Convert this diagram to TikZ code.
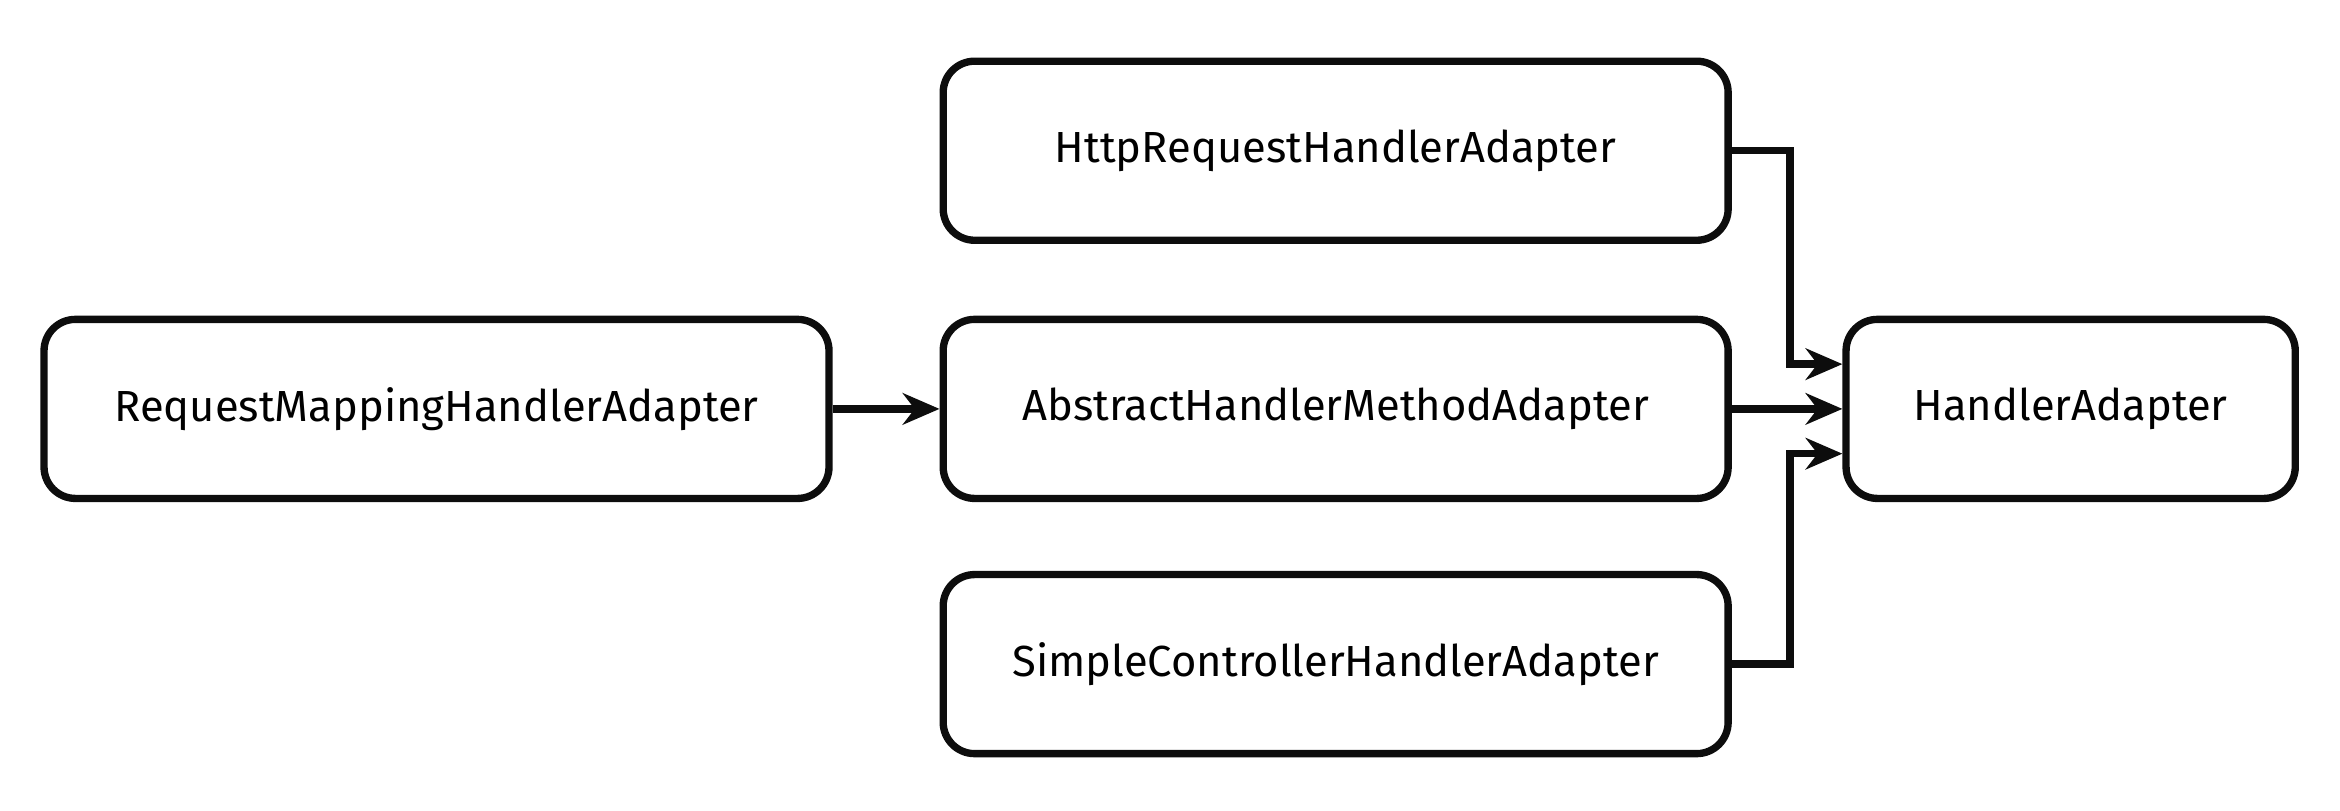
\documentclass[tikz,border=0pt]{standalone}
\usepackage{fontspec}
\setmainfont{Fira Sans}
\usetikzlibrary{arrows.meta, positioning}
\definecolor{mainBlack}{gray}{0.05}

\begin{document}
\begin{tikzpicture}[
    box/.style={draw=mainBlack, line width=1.4pt, rounded corners=6pt, minimum height=1.2cm, font=\fontsize{8.3}{10}\selectfont},
    wide/.style={box, minimum width=5.26cm},
    link/.style={-{Stealth[length=7pt, width=6pt]}, mainBlack, line width=1.4pt}
]
    \useasboundingbox (0,0) rectangle (15.68,-5.43);

    \node[wide] (reqMap) at (2.925,-2.74) {RequestMappingHandlerAdapter};
    \node[wide] (absMethod) at (8.95,-2.74) {AbstractHandlerMethodAdapter};
    \node[wide] (httpReq) at (8.95,-1.01) {HttpRequestHandlerAdapter};
    \node[wide] (simpleCtl) at (8.95,-4.45) {SimpleControllerHandlerAdapter};
    \node[box, minimum width=3.01cm] (handler) at (13.875,-2.74) {HandlerAdapter};

    % Arrows
    \draw[link] (reqMap) -- (absMethod);
    \draw[link] (absMethod) -- (handler);
    \draw[link] (httpReq.east) -- ++(0.39,0) |- ([yshift=0.3cm]handler.west);
    \draw[link] (simpleCtl.east) -- ++(0.39,0) |- ([yshift=-0.3cm]handler.west);
\end{tikzpicture}
\end{document}
